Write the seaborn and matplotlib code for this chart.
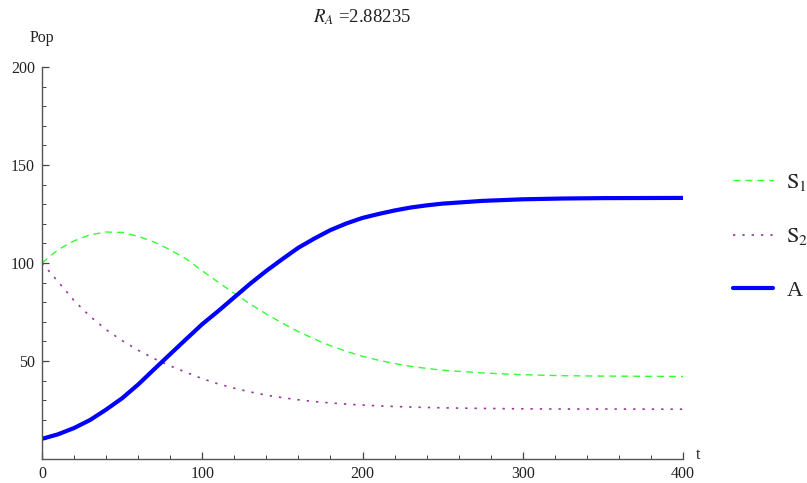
import pandas as pd
import matplotlib
matplotlib.use("Agg")
import matplotlib.pyplot as plt
import seaborn as sns
from matplotlib.ticker import MultipleLocator, FixedLocator


# ---------------------------------------------
# Data
# ---------------------------------------------
t_vals = [0, 10, 20, 30, 40, 50, 60, 70, 80, 90, 100, 110, 120, 130, 140,
          150, 160, 170, 180, 190, 200, 210, 220, 230, 240, 250, 275, 300,
          325, 350, 400]

s1_vals = [100, 106.8, 111.3, 114.4, 115.8, 115.6, 113.6, 110.7, 106.7, 102.1,
           96.0, 90.2, 84.5, 79.0, 74.0, 69.3, 65.0, 61.2, 57.8, 54.9, 52.4,
           50.4, 48.7, 47.3, 46.2, 45.3, 43.9, 43.0, 42.5, 42.3, 42.1]

s2_vals = [100, 90.5, 80.8, 72.8, 66.0, 60.4, 55.5, 51.2, 47.5, 44.2, 41.0,
           38.3, 36.1, 34.2, 32.6, 31.3, 30.2, 29.3, 28.6, 28.0, 27.5, 27.1,
           26.8, 26.5, 26.3, 26.1, 25.8, 25.6, 25.5, 25.5, 25.4]

a_vals = [10.3, 12.6, 15.8, 19.9, 25.2, 31.0, 38.0, 45.8, 53.5, 61.2, 68.8,
          75.5, 82.5, 89.5, 96.0, 102.0, 107.8, 112.5, 116.8, 120.2, 123.0,
          125.0, 126.8, 128.3, 129.4, 130.3, 131.7, 132.5, 132.9, 133.1, 133.2]

r_a = "2.88235"


def create_graph():

    sns.set_style("ticks")
    plt.rcParams["font.family"] = ["Liberation Serif", "DejaVu Serif"]
    plt.rcParams["mathtext.fontset"] = "stix"

    df = pd.DataFrame({"t": t_vals, "S1": s1_vals, "S2": s2_vals, "A": a_vals})

    fig = plt.figure(figsize=(8.07, 4.83), dpi=100)
    ax = fig.add_axes([42 / 807, 24 / 483, 641 / 807, 392 / 483])

    sns.lineplot(data=df, x="t", y="S1", ax=ax, color="#33ff33", lw=1.0,
                 linestyle=(0, (5, 3.6)), label=r"$\mathrm{S}_1$")
    sns.lineplot(data=df, x="t", y="S2", ax=ax, color="#9a35a0", lw=1.2,
                 linestyle=(0, (1.4, 4.2)), label=r"$\mathrm{S}_2$")
    sns.lineplot(data=df, x="t", y="A", ax=ax, color="#0000ff", lw=3.0,
                 label="A")

    ax.set_xlim(0, 400)
    ax.set_ylim(0, 200)
    ax.set_xlabel("")
    ax.set_ylabel("")

    ax.xaxis.set_major_locator(FixedLocator([0, 100, 200, 300, 400]))
    ax.xaxis.set_minor_locator(MultipleLocator(20))
    ax.yaxis.set_major_locator(FixedLocator([50, 100, 150, 200]))
    ax.yaxis.set_minor_locator(MultipleLocator(10))

    for side in ["top", "right"]:
        ax.spines[side].set_visible(False)
    for side in ["left", "bottom"]:
        ax.spines[side].set_color("#555555")
        ax.spines[side].set_linewidth(1.0)

    ax.tick_params(which="major", direction="in", length=5, width=0.9,
                   color="#444444", labelsize=11.5, labelcolor="#222222", pad=5)
    ax.tick_params(which="minor", direction="in", length=3, width=0.7,
                   color="#444444")

    ax.annotate("Pop", xy=(0, 200), xytext=(0, 21), textcoords="offset points",
                ha="center", va="center", fontsize=11.5, color="#222222",
                annotation_clip=False)
    ax.annotate("t", xy=(400, 0), xytext=(11, 3), textcoords="offset points",
                ha="center", va="center", fontsize=11.5, color="#222222",
                annotation_clip=False)

    fig.text(362.5 / 807, 1 - 17 / 483, r"$R_A$ =" + r_a,
             ha="center", va="center", fontsize=13.5, color="#222222")

    ax.legend(loc="upper left", bbox_to_anchor=(733 / 807, 1 - 172 / 483),
              bbox_transform=fig.transFigure, frameon=False, fontsize=16,
              handlelength=1.8, handletextpad=0.6, labelspacing=1.5,
              borderpad=0, borderaxespad=0)

    fig.savefig("out.png", dpi=100)


if __name__ == "__main__":
    create_graph()
